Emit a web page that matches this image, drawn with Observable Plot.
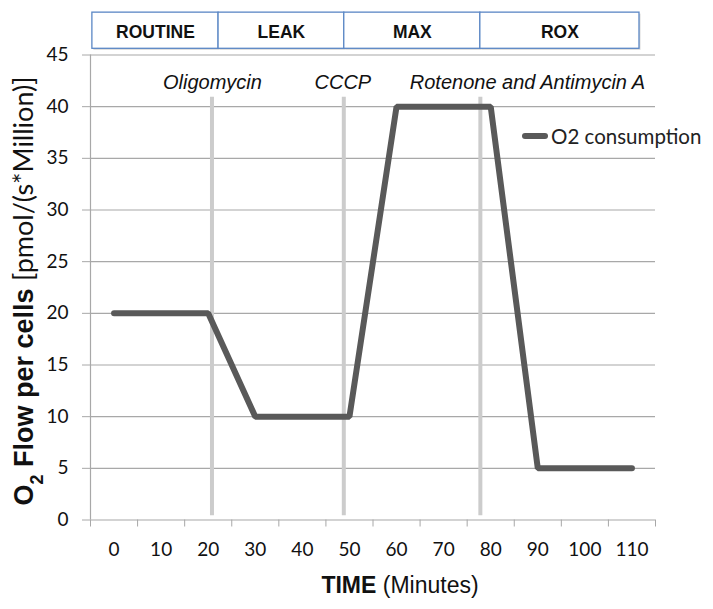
<!DOCTYPE html>
<html>
<head>
<meta charset="utf-8">
<script src="https://cdn.jsdelivr.net/npm/d3@7"></script>
<script src="https://cdn.jsdelivr.net/npm/@observablehq/plot@0.6"></script>
<style>
  html, body { margin: 0; padding: 0; background: #fff; }
  #wrap { position: relative; width: 713px; height: 609px; }
  #legend { position: absolute; left: 522px; top: 124px; display: flex; align-items: center;
            font-family: Lato, "Open Sans", sans-serif; font-size: 20.5px; color: #222; }
  #legend .sw { width: 26px; height: 6px; background: #595959; border-radius: 3px; margin-right: 3px; }
</style>
</head>
<body>
<div id="wrap"><div id="legend"><span class="sw"></span><span>O2 consumption</span></div></div>
<script>
const minutes = [0, 10, 20, 30, 40, 50, 60, 70, 80, 90, 100, 110];
const o2 = [20, 20, 20, 10, 10, 10, 40, 40, 40, 5, 5, 5];
const yTicks = [0, 5, 10, 15, 20, 25, 30, 35, 40, 45];
const categoryBounds = [-5, 5, 15, 25, 35, 45, 55, 65, 75, 85, 95, 105, 115];
const injections = ["Oligomycin", "CCCP", "Rotenone and Antimycin A"];
const injectionTimes = [20.8, 48.8, 77.8];
const injectionLabelTimes = [20.9, 48.6, 87.8];
const phases = ["ROUTINE", "LEAK", "MAX", "ROX"];
const phaseStart = [-4.6, 22.2, 48.9, 77.8];
const phaseEnd = [22.2, 48.9, 77.8, 111.6];

const series = minutes.map((m, i) => ({minute: m, value: o2[i]}));
const phaseRows = phases.map((p, i) => ({phase: p, start: phaseStart[i], end: phaseEnd[i], mid: (phaseStart[i] + phaseEnd[i]) / 2}));
const injRows = injections.map((n, i) => ({name: n, t: injectionTimes[i], lt: injectionLabelTimes[i]}));

const gridColor = "#a8a8a8";
const numFont = "Lato, 'Open Sans', sans-serif";
const arial = "'Liberation Sans', Arial, sans-serif";

const chart = Plot.plot({
  width: 713,
  height: 609,
  marginLeft: 90,
  marginRight: 58,
  marginTop: 54.5,
  marginBottom: 89.5,
  style: {background: "#fff", overflow: "visible"},
  x: {domain: [-5, 115]},
  y: {domain: [0, 45]},
  marks: [
    Plot.gridY(yTicks.filter(d => d > 0), {stroke: gridColor, strokeOpacity: 1, strokeWidth: 1.2}),
    Plot.ruleX([-5], {y1: 0, y2: 45, stroke: gridColor, strokeWidth: 1.2}),
    Plot.ruleY([0], {stroke: gridColor, strokeWidth: 1.2}),
    Plot.axisY({ticks: yTicks, tickSize: 8, tickPadding: 14, stroke: gridColor, fontSize: 19, fontFamily: numFont, fill: "#111", label: null, tickFormat: d => String(d)}),
    Plot.axisX({ticks: categoryBounds, tickSize: 7, stroke: gridColor, text: null, label: null}),
    Plot.axisX({ticks: minutes, tickSize: 0, tickPadding: 22, fontSize: 19, fontFamily: numFont, fill: "#111", label: null, tickFormat: d => String(d)}),
    Plot.ruleX(injRows, {x: "t", y1: 0.4, y2: 40.9, stroke: "#cccccc", strokeWidth: 4}),
    Plot.line(series, {x: "minute", y: "value", stroke: "#595959", strokeWidth: 6, strokeLinejoin: "miter"}),
    Plot.text(injRows, {x: "lt", text: "name", frameAnchor: "top", lineAnchor: "middle", dy: 27.5, fontSize: 20, fontStyle: "italic", fontFamily: arial, fill: "#111"}),
    Plot.rect(phaseRows, {x1: "start", x2: "end", y1: 45.6, y2: 49.1, fill: "#d8d8d8", dx: 1.5, dy: 1.5}),
    Plot.rect(phaseRows, {x1: "start", x2: "end", y1: 45.6, y2: 49.1, fill: "#fff", stroke: "#5b87c5", strokeWidth: 1.3}),
    Plot.text(phaseRows, {x: "mid", text: "phase", frameAnchor: "top", lineAnchor: "middle", dy: -23, fontSize: 17.5, fontWeight: "bold", fontFamily: arial, fill: "#111"})
  ]
});

const svg = d3.select(chart);
// Y axis title
const yt = svg.append("text")
  .attr("transform", "translate(33,291) rotate(-90)")
  .attr("text-anchor", "middle")
  .attr("fill", "#111")
  .style("font-size", "27px");
const b = yt.append("tspan").style("font-family", arial).style("font-weight", "bold");
b.append("tspan").text("O");
b.append("tspan").attr("baseline-shift", "sub").style("font-size", "18px").text("2");
b.append("tspan").text(" Flow per cells ");
yt.append("tspan").style("font-family", numFont).style("font-size", "27px").text("[pmol/(s*Million)]");

// X axis title
const xt = svg.append("text")
  .attr("x", 400).attr("y", 593)
  .attr("text-anchor", "middle")
  .attr("fill", "#111")
  .style("font-size", "23px")
  .style("font-family", arial);
xt.append("tspan").style("font-weight", "bold").text("TIME");
xt.append("tspan").text(" (Minutes)");

document.getElementById("wrap").prepend(chart);
</script>
</body>
</html>
